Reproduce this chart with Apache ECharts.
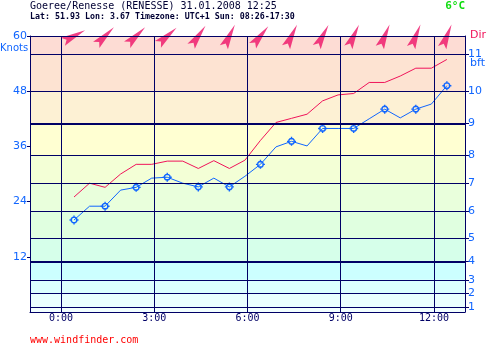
<!DOCTYPE html>
<html>
<head>
<meta charset="utf-8">
<script src="https://cdn.jsdelivr.net/npm/echarts@6/dist/echarts.min.js"></script>
<style>
  html, body { margin: 0; padding: 0; background: #fff; }
  #main { width: 495px; height: 348px; }
</style>
</head>
<body>
<div id="main"></div>
<script>
// readings every 30 min (local time)
const times = ['0:25', '0:55', '1:25', '1:55', '2:25', '2:55', '3:25', '3:55', '4:25', '4:55',
  '5:25', '5:55', '6:25', '6:55', '7:25', '7:55', '8:25', '8:55', '9:25', '9:55',
  '10:25', '10:55', '11:25', '11:55', '12:25'];
const windKn = [20, 23, 23, 26.5, 27.1, 29.1, 29.3, 28, 27.2, 29.1,
  27.2, 29.5, 32.1, 35.9, 37.1, 36.1, 39.9, 39.9, 39.9, 42,
  44.1, 42.2, 44.1, 45.2, 49.2];
const gustKn = [25, 28, 27.1, 30, 32.1, 32.1, 32.8, 32.8, 31.2, 32.9,
  31.2, 33, 37.3, 41.2, 42.1, 43, 45.9, 47.2, 47.5, 49.9,
  49.9, 51.3, 53, 53, 54.9];
// direction arrows, one per full reading (degrees, clockwise from north)
const dirDeg = [63, 45, 46, 48, 35, 26, 39, 26, 28, 25, 23, 22, 22];

const hourTicks = [0, 3, 6, 9, 12];
const hourLabels = ['0:00', '3:00', '6:00', '9:00', '12:00'];
const knotTicks = [12, 24, 36, 48, 60];
const bftKnots = [1, 4, 7, 11, 16, 22, 28, 34, 41, 48, 56]; // lower limit of bft 1..11
const bftLabels = ['1', '2', '3', '4', '5', '6', '7', '8', '9', '10', '11'];
const thickBft = [11, 41];

const bandColors = ['#f2ffff', '#eaffff', '#dcffff', '#ccffff', '#d6ffea', '#e0ffe0',
  '#e9ffdc', '#f3ffd6', '#ffffd2', '#fdf1d4', '#fde3d2', '#fddcd4'];

const NAVY = '#000066';
const BLUE = '#1166ff';
const RED = '#f0145a';
const MONO = 'DejaVu Sans Mono';

const toH = (s) => {
  const p = s.split(':');
  return +p[0] + p[1] / 60;
};

// small ring with four ticks
const marker = 'path://M-2.6,-1.4L-1.4,-2.6L1.4,-2.6L2.6,-1.4L2.6,1.4L1.4,2.6L-1.4,2.6L-2.6,1.4Z' +
  'M0,-4.5L0,-2.6M0,2.6L0,4.5M-4.5,0L-2.6,0M2.6,0L4.5,0';
const arrow = 'path://M0,-12L4.5,12L0,8L-4.5,12Z';

var chart = echarts.init(document.getElementById('main'));

// background bands between bft limits
const bounds = [0].concat(bftKnots, [60]);
const bands = [];
for (let i = 0; i < bounds.length - 1; i++) {
  bands.push([{ yAxis: bounds[i], itemStyle: { color: bandColors[i] } }, { yAxis: bounds[i + 1] }]);
}
const gridLines = hourTicks.map((h) => ({ xAxis: h }))
  .concat(bftKnots.map((k) => ({
    yAxis: k,
    lineStyle: { width: thickBft.indexOf(k) >= 0 ? 2 : 1 },
  })));

const windData = times.map((t, i) => ({
  value: [toH(t), windKn[i]],
  symbol: i % 2 === 0 ? marker : 'none',
}));
const gustData = times.map((t, i) => [toH(t), gustKn[i]]);
const arrowData = dirDeg.map((d, i) => ({
  value: [toH(times[i * 2]), 60],
  symbolRotate: -d,
}));

const option = {
  animation: false,
  grid: { left: 30, right: 30, top: 36, bottom: 36 },
  xAxis: [
    {
      type: 'value', min: -1, max: 13, z: 10,
      axisLine: { show: true, onZero: false, lineStyle: { color: NAVY, width: 1 } },
      axisTick: { show: false },
      splitLine: { show: false },
      axisLabel: {
        customValues: hourTicks,
        formatter: (v) => hourLabels[hourTicks.indexOf(v)],
        color: NAVY, fontFamily: MONO, fontSize: 10, margin: 1,
      },
    },
    {
      type: 'value', min: -1, max: 13, position: 'top', z: 10,
      axisLine: { show: true, onZero: false, lineStyle: { color: NAVY, width: 1 } },
      axisTick: { show: false }, axisLabel: { show: false }, splitLine: { show: false },
    },
  ],
  yAxis: [
    {
      type: 'value', min: 0, max: 60, z: 10,
      axisLine: { show: true, onZero: false, lineStyle: { color: NAVY, width: 1 } },
      axisTick: { show: true, customValues: knotTicks, length: 3, lineStyle: { color: NAVY } },
      splitLine: { show: false },
      axisLabel: {
        customValues: knotTicks, color: BLUE, fontFamily: 'DejaVu Sans', fontSize: 11, margin: 3,
      },
    },
    {
      type: 'value', min: 0, max: 60, position: 'right', z: 10,
      axisLine: { show: true, onZero: false, lineStyle: { color: NAVY, width: 1 } },
      axisTick: { show: true, customValues: bftKnots, length: 4, lineStyle: { color: NAVY } },
      splitLine: { show: false },
      axisLabel: {
        customValues: bftKnots,
        formatter: (v) => bftLabels[bftKnots.indexOf(v)],
        color: BLUE, fontFamily: 'DejaVu Sans', fontSize: 11, margin: 3,
      },
    },
  ],
  series: [
    {
      type: 'line', data: [], z: 1, silent: true,
      markArea: { silent: true, data: bands },
      markLine: {
        silent: true, symbol: 'none', label: { show: false },
        lineStyle: { color: NAVY, type: 'solid', width: 1 },
        data: gridLines,
      },
    },
    {
      name: 'gust', type: 'line', z: 3, data: gustData, symbol: 'none',
      lineStyle: { color: RED, width: 1 },
    },
    {
      name: 'wind', type: 'line', z: 4, data: windData,
      symbolSize: 9, showAllSymbol: true,
      lineStyle: { color: BLUE, width: 1 },
      itemStyle: { color: 'rgba(0,0,0,0)', borderColor: BLUE, borderWidth: 1.4 },
    },
    {
      name: 'dir', type: 'scatter', z: 5, data: arrowData, clip: false,
      symbol: arrow, symbolSize: [9, 25],
      itemStyle: { color: '#ee1166' },
    },
  ],
  graphic: [
    { type: 'text', left: 30, top: 1, style: { text: 'Goeree/Renesse (RENESSE) 31.01.2008 12:25', fill: '#000033', font: '10px ' + MONO } },
    { type: 'text', left: 30, top: 13, style: { text: 'Lat: 51.93 Lon: 3.67 Timezone: UTC+1 Sun: 08:26-17:30', fill: '#000033', font: 'bold 8.3px ' + MONO } },
    { type: 'text', right: 30, top: 1, style: { text: '6°C', fill: '#11dd11', font: 'bold 11px ' + MONO } },
    { type: 'text', left: 470, top: 30, style: { text: 'Dir', fill: '#f0145a', font: '11px DejaVu Sans' } },
    { type: 'text', left: 0, top: 43, style: { text: 'Knots', fill: BLUE, font: '10px DejaVu Sans' } },
    { type: 'text', left: 470, top: 58, style: { text: 'bft', fill: BLUE, font: '11px DejaVu Sans' } },
    { type: 'text', left: 30, top: 335, style: { text: 'www.windfinder.com', fill: '#ff0000', font: '10px ' + MONO } },
  ],
};
chart.setOption(option);
</script>
</body>
</html>
